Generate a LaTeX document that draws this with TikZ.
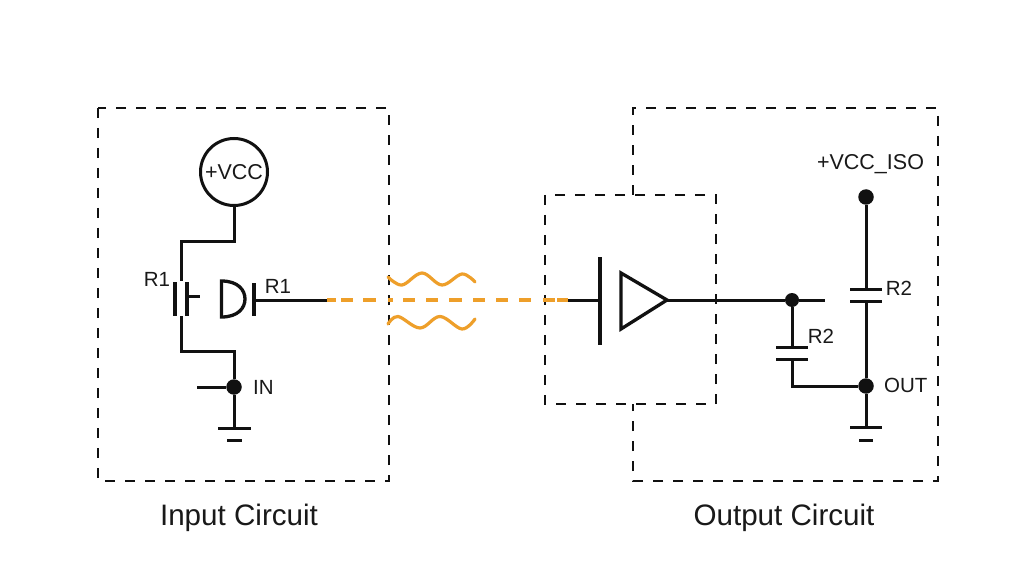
\documentclass[tikz,border=0pt]{standalone}
\usepackage{fontspec}
\setmainfont{Liberation Sans}
\definecolor{wirek}{HTML}{111111}
\definecolor{sigor}{HTML}{EE9F2A}
\tikzset{
  wire/.style={draw=wirek,line width=3pt,line cap=butt,line join=miter},
  plate/.style={draw=wirek,line width=3.3pt},
  bound/.style={draw=wirek,line width=2.7pt,dash pattern=on 10pt off 10pt},
  optical/.style={draw=sigor,line width=3.4pt},
  opticala/.style={optical,dash pattern=on 9pt off 5pt on 12pt off 10pt on 13pt off 12pt on 5pt off 10pt},
  opticalb/.style={optical,dash pattern=on 12pt off 11pt on 12pt off 11pt on 13pt off 11pt on 12pt off 11pt on 12pt off 11pt on 12pt off 12pt on 12pt off 2pt on 11pt off 20pt},
  wave/.style={draw=sigor,line width=3.2pt,line cap=round},
  junction/.style={circle,fill=wirek,draw=none,minimum size=15.5pt,inner sep=0pt},
  smalljunction/.style={circle,fill=wirek,draw=none,minimum size=14pt,inner sep=0pt},
  lab/.style={font=\fontsize{20.5}{22}\selectfont,text=black!90,inner sep=0pt},
  capt/.style={font=\fontsize{29.6}{32}\selectfont,text=black!90,inner sep=0pt},
}
\begin{document}
\begin{tikzpicture}[x=1pt,y=-1pt]
\useasboundingbox (0,0) rectangle (1024,585);
\fill[white] (0,0) rectangle (1024,585);
% boundary boxes
\draw[bound] (633,195) -- (633,108) -- (938,108) -- (938,481) -- (633,481) -- (633,404);
\draw[bound] (98,108) rectangle (389,481);
\draw[bound] (545,195) rectangle (716,404);
% input side nodes
\node[circle,draw=wirek,line width=3pt,minimum size=67pt,inner sep=0pt,font=\fontsize{21.5}{23}\selectfont,text=black!90] (vcc) at (234,172) {+VCC};
\coordinate (tl) at (181,241);
\coordinate (tj) at (234,241);
\coordinate (sw1) at (181,281);
\coordinate (sw2) at (181,316);
\coordinate (bl) at (181,351);
\coordinate (bj) at (234,351);
\node[junction] (in) at (234,387) {};
\coordinate (instub) at (197,387);
\coordinate (g1) at (234,428);
\coordinate (txp) at (254,300);
\coordinate (txe) at (327,300);
\draw[wire] (vcc.south) -- (tj) -- (tl) -- (sw1);
\draw[wire] (sw2) -- (bl) -- (bj) -- (in) -- (g1);
\draw[wire] (instub) -- (in);
\draw[plate] (175,282) -- (175,316);
\draw[plate] (187,282) -- (187,316);
\draw[wire] (187,296) -- (200,296);
\draw[plate] (221.5,281) .. controls (238,281) and (245,290) .. (245,299) .. controls (245,308) and (238,317) .. (221.5,317) -- cycle;
\draw[plate] (254,283) -- (254,316);
\draw[wire] (txp) -- (txe);
\draw[wire] (218,428) -- (251,428);
\draw[wire] (227,440) -- (242,440);
% optical link
\coordinate (rxe) at (568,300);
\coordinate (rxp) at (600,300);
\coordinate (optgap) at (403,300);
\draw[opticala] (txe) -- (optgap);
\draw[opticalb] (optgap) -- (rxe);
\draw[wave] plot[smooth,tension=0.6] coordinates {(388,277) (402,285) (422,273) (442,285) (462,274) (475,282)};
\draw[wave] plot[smooth,tension=0.6] coordinates {(388,324) (398,316.5) (420,328) (440,316.5) (462,329) (475,319)};
% receiver
\draw[wire] (rxe) -- (rxp);
\draw[plate] (600,257) -- (600,345);
\node[inner sep=0pt,minimum size=0pt] (tip) at (667,300) {};
\draw[plate,line join=miter] (621,273) -- (tip.center) -- (621,329) -- cycle;
% output side
\node[smalljunction] (mid) at (792,300) {};
\coordinate (oe) at (825,300);
\draw[wire] (tip.center) -- (mid) -- (oe);
\coordinate (c1a) at (792,347);
\coordinate (c1b) at (792,359);
\coordinate (c1c) at (792,386);
\node[junction] (out) at (866,386) {};
\node[junction] (viso) at (866,197) {};
\coordinate (c2a) at (866,289);
\coordinate (c2b) at (866,301);
\coordinate (g2) at (866,427);
\draw[wire] (mid) -- (c1a);
\draw[wire] (776,347) -- (808,347);
\draw[wire] (776,359) -- (808,359);
\draw[wire] (c1b) -- (c1c) -- (out);
\draw[wire] (viso) -- (c2a);
\draw[wire] (850,289) -- (882,289);
\draw[wire] (850,301) -- (882,301);
\draw[wire] (c2b) -- (out) -- (g2);
\draw[wire] (850,427) -- (882,427);
\draw[wire] (859,440) -- (873,440);
% labels
\node[lab] (l1) at (157,279) {R1};
\node[lab] (l2) at (278,286) {R1};
\node[lab,anchor=west] (l3) at (253,387) {IN};
\node[lab] (l4) at (821,336) {R2};
\node[lab] (l5) at (899,288) {R2};
\node[lab,anchor=west] (l6) at (884,385) {OUT};
\node[lab,font=\fontsize{21.5}{23}\selectfont] (l7) at (870.5,164) {+VCC\_ISO};
\node[capt] (c1) at (239,518) {Input Circuit};
\node[capt] (c2) at (784,518) {Output Circuit};
\end{tikzpicture}
\end{document}
